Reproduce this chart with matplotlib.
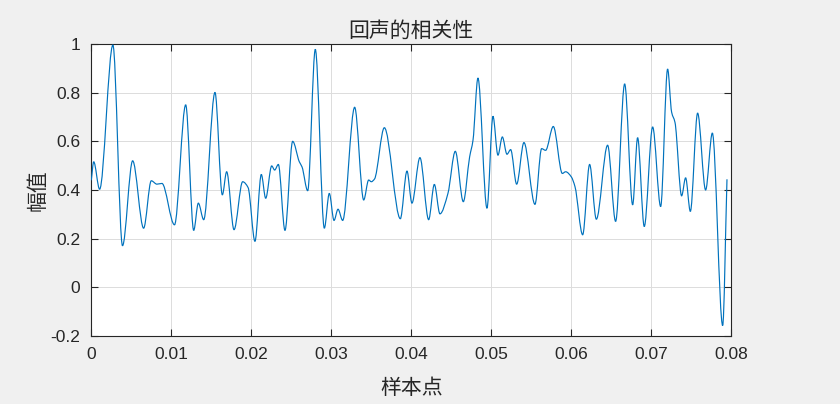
import matplotlib
matplotlib.use("Agg")
import matplotlib.pyplot as plt
from matplotlib.path import Path
from matplotlib.patches import PathPatch

# ---- data (local peaks/troughs and shoulders) ----
x_pts = [0.0000, 0.0003, 0.00104, 0.0027, 0.0039, 0.00517, 0.00654, 0.0075, 0.0082, 0.00883,
         0.0104, 0.0118, 0.0128, 0.01338, 0.01405, 0.01546, 0.01638, 0.01692, 0.01784, 0.01892,
         0.0196, 0.02046, 0.02125, 0.0218, 0.02255, 0.02292, 0.02338, 0.02421, 0.02517, 0.0260,
         0.02634, 0.02705, 0.0280, 0.02913, 0.02975, 0.03034, 0.03084, 0.03142, 0.03292, 0.03405,
         0.03467, 0.0350, 0.0354, 0.03663, 0.03863, 0.03946, 0.04008, 0.04108, 0.04217, 0.04288,
         0.04358, 0.04458, 0.0455, 0.0465, 0.04729, 0.04771, 0.04833, 0.04946, 0.05021, 0.05083,
         0.05138, 0.05196, 0.05242, 0.05317, 0.05408, 0.05546, 0.05629, 0.05679, 0.05775, 0.05888,
         0.05929, 0.0600, 0.06046, 0.06142, 0.06229, 0.06313, 0.06454, 0.06554, 0.06667, 0.06767,
         0.06829, 0.06912, 0.07017, 0.07117, 0.07204, 0.07254, 0.07296, 0.07379, 0.07429, 0.07488,
         0.07579, 0.07679, 0.07763, 0.07892, 0.07946]
y_pts = [0.44, 0.516, 0.403, 0.996, 0.171, 0.52, 0.243, 0.438, 0.424, 0.427,
         0.257, 0.75, 0.234, 0.346, 0.278, 0.801, 0.38, 0.475, 0.237, 0.434,
         0.41, 0.189, 0.464, 0.366, 0.499, 0.482, 0.505, 0.234, 0.60, 0.516,
         0.495, 0.397, 0.978, 0.243, 0.386, 0.275, 0.321, 0.275, 0.74, 0.359,
         0.441, 0.434, 0.445, 0.656, 0.282, 0.478, 0.346, 0.533, 0.278, 0.423,
         0.302, 0.386, 0.559, 0.352, 0.536, 0.604, 0.86, 0.325, 0.703, 0.543,
         0.618, 0.547, 0.566, 0.424, 0.595, 0.341, 0.57, 0.563, 0.661, 0.468,
         0.475, 0.454, 0.414, 0.216, 0.505, 0.28, 0.584, 0.271, 0.836, 0.339,
         0.615, 0.25, 0.659, 0.332, 0.897, 0.72, 0.678, 0.376, 0.45, 0.312,
         0.716, 0.40, 0.634, -0.157, 0.444]

x_ticks = [0, 0.01, 0.02, 0.03, 0.04, 0.05, 0.06, 0.07, 0.08]
x_tick_labels = ["0", "0.01", "0.02", "0.03", "0.04", "0.05", "0.06", "0.07", "0.08"]
y_ticks = [-0.2, 0, 0.2, 0.4, 0.6, 0.8, 1.0]
y_tick_labels = ["-0.2", "0", "0.2", "0.4", "0.6", "0.8", "1"]

title_text = "回声的相关性"
xlabel_text = "样本点"
ylabel_text = "幅值"


def smooth_path(xs, ys):
    """Monotone cubic (Fritsch-Carlson) Bezier path through the read points."""
    n = len(xs)
    d = [(ys[i + 1] - ys[i]) / (xs[i + 1] - xs[i]) for i in range(n - 1)]
    m = [0.0] * n
    m[0], m[-1] = d[0], d[-1]
    for i in range(1, n - 1):
        if d[i - 1] * d[i] <= 0:
            m[i] = 0.0
        else:
            h0 = xs[i] - xs[i - 1]
            h1 = xs[i + 1] - xs[i]
            w1, w2 = 2 * h1 + h0, h1 + 2 * h0
            m[i] = (w1 + w2) / (w1 / d[i - 1] + w2 / d[i])
    verts = [(xs[0], ys[0])]
    codes = [Path.MOVETO]
    for i in range(n - 1):
        h = xs[i + 1] - xs[i]
        verts += [(xs[i] + h / 3, ys[i] + m[i] * h / 3),
                  (xs[i + 1] - h / 3, ys[i + 1] - m[i + 1] * h / 3),
                  (xs[i + 1], ys[i + 1])]
        codes += [Path.CURVE4] * 3
    return Path(verts, codes)


num_font = "Liberation Sans"
cjk = ["Noto Sans CJK SC", "DejaVu Sans"]
txt = "#262626"

fig = plt.figure(figsize=(8.4, 4.04), dpi=100, facecolor="#F0F0F0")
ax = fig.add_axes([91.3 / 840, 68 / 404, 640 / 840, 292 / 404])
ax.set_facecolor("white")

ax.add_patch(PathPatch(smooth_path(x_pts, y_pts), facecolor="none",
                       edgecolor="#0072BD", lw=0.85, zorder=3))

ax.set_xlim(0, 0.08)
ax.set_ylim(-0.2, 1.0)
ax.set_xticks(x_ticks)
ax.set_xticklabels(x_tick_labels, family=num_font, fontsize=12.5)
ax.set_yticks(y_ticks)
ax.set_yticklabels(y_tick_labels, family=num_font, fontsize=12.5)

ax.grid(True, color="#DCDCDC", lw=0.7)
ax.set_axisbelow(True)
for s in ax.spines.values():
    s.set_color(txt)
    s.set_linewidth(0.8)
ax.tick_params(direction="in", length=5, width=0.8, colors=txt,
               top=True, right=True, pad=8)

ax.set_title(title_text, family=cjk, fontsize=15, color=txt, pad=5,
             fontweight="light")
ax.set_xlabel(xlabel_text, family=cjk, fontsize=15, color=txt, labelpad=11,
              fontweight="light")
ax.set_ylabel(ylabel_text, family=cjk, fontsize=15, color=txt, labelpad=1,
              fontweight="light")

fig.savefig("out.png", dpi=100, facecolor=fig.get_facecolor())
